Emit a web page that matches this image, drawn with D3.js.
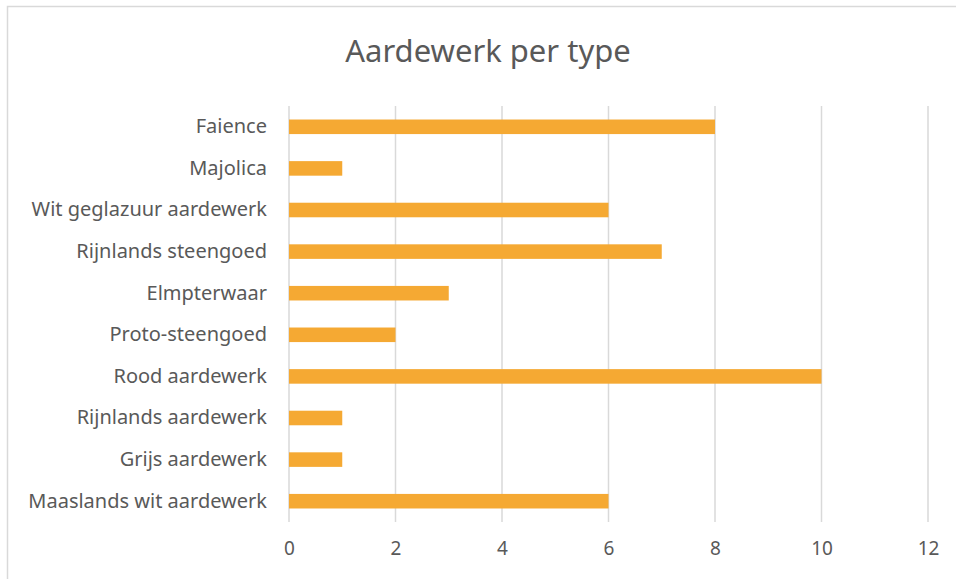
<!DOCTYPE html>
<html>
<head>
<meta charset="utf-8">
<script src="https://cdn.jsdelivr.net/npm/d3@7/dist/d3.min.js"></script>
<style>
    body { margin: 0; background: #fff; }
    * { font-family: 'Noto Sans', 'Open Sans', sans-serif; }
    .tick text { fill: #595959; }
</style>
</head>
<body>
<svg width="956" height="579"></svg>
<script>
    // data
    var categories = ["Faience", "Majolica", "Wit geglazuur aardewerk", "Rijnlands steengoed",
                      "Elmpterwaar", "Proto-steengoed", "Rood aardewerk", "Rijnlands aardewerk",
                      "Grijs aardewerk", "Maaslands wit aardewerk"];
    var counts = [8, 1, 6, 7, 3, 2, 10, 1, 1, 6];
    var xTicks = [0, 2, 4, 6, 8, 10, 12];

    var data = categories.map(function (c, i) { return {label: c, value: counts[i]}; });

    var svg = d3.select("svg"),
        width = +svg.attr("width"),
        height = +svg.attr("height"),
        margin = {top: 106, right: 28, bottom: 57, left: 289};

    var barColor = "#F5A933";
    var textColor = "#595959";

    // chart frame
    svg.append("rect")
        .attr("x", 7.5)
        .attr("y", 6.5)
        .attr("width", 960)
        .attr("height", 600)
        .attr("fill", "#fff")
        .attr("stroke", "#d9d9d9")
        .attr("stroke-width", 1.5);

    svg.append("text")
        .attr("x", 488)
        .attr("y", 62)
        .attr("text-anchor", "middle")
        .attr("fill", textColor)
        .style("font-size", "31px")
        .text("Aardewerk per type");

    var xScale = d3.scaleLinear()
        .domain([0, 12])
        .range([margin.left, width - margin.right]);

    var yScale = d3.scaleBand()
        .domain(categories)
        .range([margin.top, height - margin.bottom])
        .paddingInner(0.65)
        .paddingOuter(0.325);

    // gridlines
    svg.append("g")
        .selectAll("line")
        .data(xTicks)
        .enter().append("line")
        .attr("x1", function (d) { return xScale(d); })
        .attr("x2", function (d) { return xScale(d); })
        .attr("y1", margin.top)
        .attr("y2", height - margin.bottom)
        .attr("stroke", "#d9d9d9")
        .attr("stroke-width", 1.5);

    // bars
    svg.append("g")
        .selectAll("rect")
        .data(data)
        .enter().append("rect")
        .attr("x", xScale(0))
        .attr("y", function (d) { return yScale(d.label); })
        .attr("width", function (d) { return xScale(d.value) - xScale(0); })
        .attr("height", yScale.bandwidth())
        .attr("fill", barColor);

    // x axis labels
    var xAxis = svg.append("g")
        .attr("transform", "translate(0," + (height - margin.bottom) + ")")
        .call(d3.axisBottom(xScale).tickValues(xTicks).tickSize(0).tickPadding(20));
    xAxis.select(".domain").remove();
    xAxis.selectAll("text").style("font-size", "19px");

    // y axis labels
    var yAxis = svg.append("g")
        .attr("transform", "translate(" + (margin.left - 22) + ",0)")
        .call(d3.axisLeft(yScale).tickSize(0).tickPadding(0));
    yAxis.select(".domain").remove();
    yAxis.selectAll("text").style("font-size", "20px");
</script>
</body>
</html>
